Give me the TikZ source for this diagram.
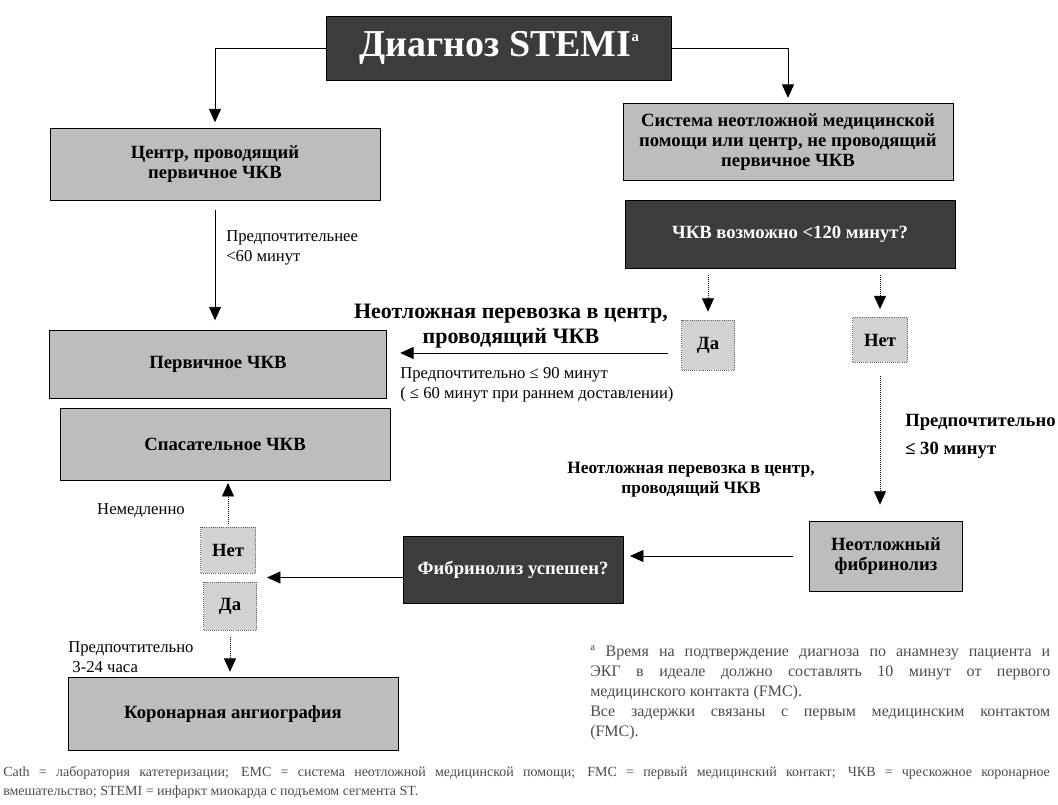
\documentclass[tikz,border=0pt]{standalone}
\usepackage{fontspec}
\setmainfont{Liberation Serif}
\usetikzlibrary{arrows.meta,calc}
\definecolor{boxgray}{HTML}{BDBDBD}
\definecolor{darkbox}{HTML}{3C3C3C}
\definecolor{smallgray}{HTML}{D2D2D2}
\begin{document}
\begin{tikzpicture}[x=0.75pt,y=-0.75pt,
  lbox/.style={draw=black,line width=0.6pt,fill=boxgray,inner sep=0pt,align=center,
    font=\bfseries\fontsize{14}{15}\selectfont},
  dbox/.style={draw=black,line width=0.6pt,fill=darkbox,text=white,inner sep=0pt,align=center,
    font=\bfseries\fontsize{14}{15}\selectfont},
  sbox/.style={draw=black!60,densely dotted,line width=0.6pt,fill=smallgray,inner sep=0pt,
    font=\bfseries\fontsize{14}{15}\selectfont},
  arr/.style={line width=0.5pt,-{Triangle[width=9pt,length=10pt]}},
  darr/.style={arr,densely dotted},
  lbl/.style={inner sep=0pt,align=left,font=\fontsize{12.5}{15}\selectfont},
  blbl/.style={inner sep=0pt,align=center,font=\bfseries\fontsize{14}{15}\selectfont},
  note/.style={inner sep=0pt,text=black!70}]
\useasboundingbox (0,0) rectangle (1058,805);
\fill[white] (0,0) rectangle (1058,805);

% boxes
\node[dbox,minimum width=258.75pt,minimum height=48pt,font=\bfseries\fontsize{28.5}{30}\selectfont] (title) at (499,48) {Диагноз STEMI\raisebox{11pt}{\fontsize{11}{11}\selectfont a}};
\node[lbox,minimum width=247.5pt,minimum height=54pt] (centr) at (215,164) {Центр, проводящий\\первичное ЧКВ};
\node[lbox,minimum width=247.5pt,minimum height=57.75pt] (sys) at (788,142) {Система неотложной медицинской\\помощи или центр, не проводящий\\первичное ЧКВ};
\node[dbox,minimum width=247.5pt,minimum height=51pt] (q1) at (790,234) {ЧКВ возможно <120 минут?};
\node[sbox,minimum width=39.75pt,minimum height=37.5pt] (yes1) at (708,345) {Да};
\node[sbox,minimum width=41.25pt,minimum height=33.75pt] (no1) at (880,340) {Нет};
\node[lbox,minimum width=252.75pt,minimum height=51pt] (perv) at (218,364) {Первичное ЧКВ};
\node[lbox,minimum width=247.5pt,minimum height=54pt] (spas) at (225,444) {Спасательное ЧКВ};
\node[sbox,minimum width=41.25pt,minimum height=34.5pt] (no2) at (228,550) {Нет};
\node[sbox,minimum width=39.75pt,minimum height=36pt] (yes2) at (230,606) {Да};
\node[lbox,minimum width=247.5pt,minimum height=54.75pt] (koro) at (233,714) {Коронарная ангиография};
\node[dbox,minimum width=165pt,minimum height=50.25pt] (fib) at (513,570) {Фибринолиз успешен?};
\node[lbox,minimum width=114.75pt,minimum height=52.5pt] (nf) at (886,556) {Неотложный\\фибринолиз};

% connectors
\draw[arr,shorten >=4pt] (title.west) -| (centr.north);
\draw[arr,shorten >=4pt] (title.east) -| (sys.north);
\draw[arr,shorten <=7pt,shorten >=7pt] (centr.south) -- (centr.south |- perv.north);
\draw[darr,shorten <=5pt,shorten >=6pt] (yes1.north |- q1.south) -- (yes1.north);
\draw[darr,shorten <=5pt,shorten >=6pt] (no1.north |- q1.south) -- (no1.north);
\coordinate (ya) at ([yshift=-6pt]yes1.west);
\draw[arr,shorten <=10pt,shorten >=10pt] (ya) -- (ya -| perv.east);
\draw[darr,shorten <=10pt,shorten >=12pt] (no1.south) -- (no1.south |- nf.north);
\draw[arr,shorten <=12pt,shorten >=5pt] (nf.west) -- (nf.west -| fib.east);
\coordinate (gap) at ($(no2.south east)!0.5!(yes2.north east)$);
\draw[arr,shorten >=8pt] (fib.west |- gap) -- (gap);
\draw[darr,shorten <=2pt,shorten >=2pt] (no2.north) -- (no2.north |- spas.south);
\draw[darr,shorten <=5pt,shorten >=4pt] (yes2.south) -- (yes2.south |- koro.north);

% labels
\node[lbl,anchor=west] (l60) at (226,248) {Предпочтительнее\\<60 минут};
\node[blbl,font=\bfseries\fontsize{16.5}{19}\selectfont] (lper1) at (511,326) {Неотложная перевозка в центр,\\проводящий ЧКВ};
\node[lbl,anchor=west] (l90) at (400,385) {Предпочтительно ≤ 90 минут\\( ≤ 60 минут при раннем доставлении)};
\node[blbl,anchor=west,align=left] (l30) at (905,436) {Предпочтительно\\[6pt]≤ 30 минут};
\node[blbl,font=\bfseries\fontsize{13}{15}\selectfont] (lper2) at (691,480) {Неотложная перевозка в центр,\\проводящий ЧКВ};
\node[lbl] (limm) at (141,511) {Немедленно};
\node[lbl,anchor=west] (l324) at (68,657) {Предпочтительно\\\ 3-24 часа};

% notes
\node[note,anchor=north west,font=\fontsize{12}{15}\selectfont] (fn) at (590,645) {\parbox{345pt}{\parindent=0pt
\textsuperscript{a} Время на подтверждение диагноза по анамнезу пациента и\linebreak
ЭКГ в идеале должно составлять 10 минут от первого\linebreak
медицинского контакта (FMC).\\
Все задержки связаны с первым медицинским контактом\linebreak
(FMC).}};
\node[note,anchor=west,font=\fontsize{10.5}{12}\selectfont] (ab1) at (3,773) {\makebox[785pt][s]{Cath = лаборатория катетеризации; EMC = система неотложной медицинской помощи; FMC = первый медицинский контакт; ЧКВ = чрескожное коронарное}};
\node[note,anchor=west,font=\fontsize{10.5}{12}\selectfont] (ab2) at (3,792) {вмешательство; STEMI = инфаркт миокарда с подъемом сегмента ST.};
\end{tikzpicture}
\end{document}
